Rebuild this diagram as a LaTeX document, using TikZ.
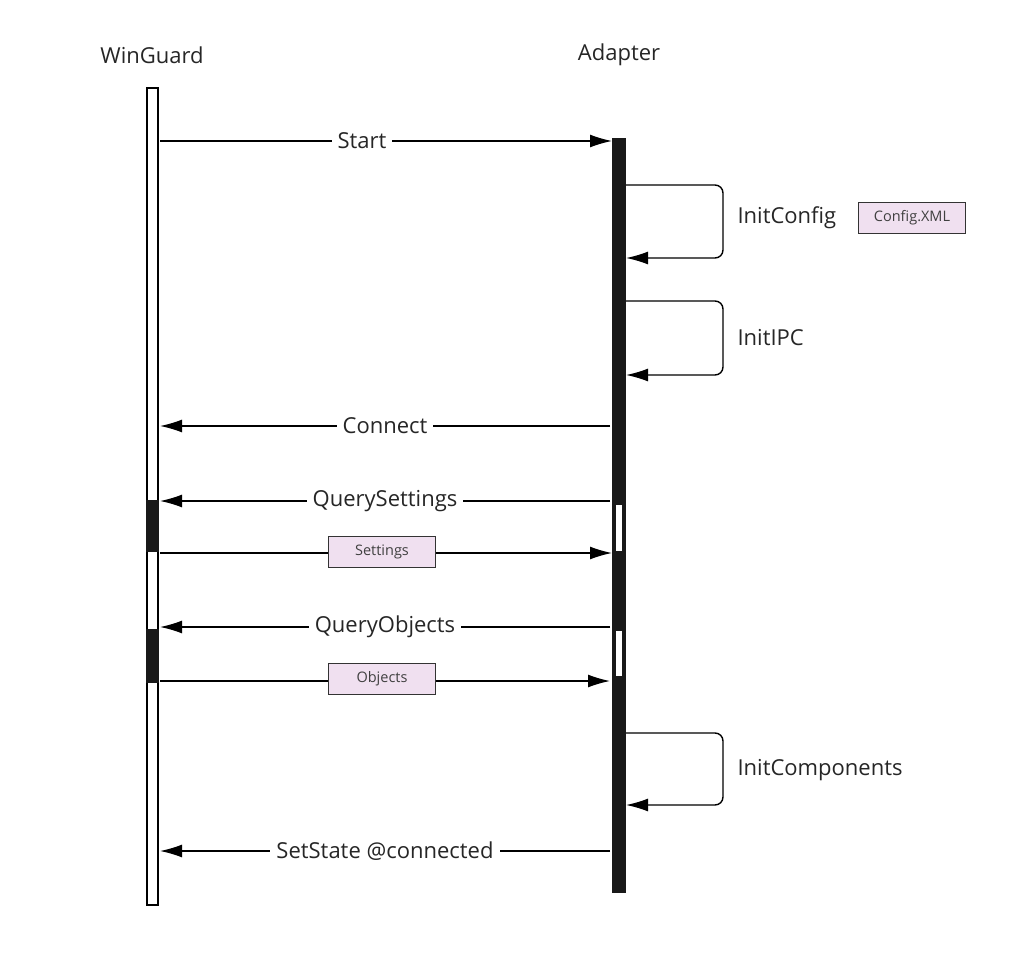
\documentclass[tikz,border=0pt]{standalone}
\usepackage{fontspec}
\setmainfont{Open Sans}
\usetikzlibrary{arrows.meta}
\begin{document}
\begin{tikzpicture}[x=1pt,y=-1pt,
  msg/.style={line width=1.4pt,-{Latex[length=22pt,width=13pt]}},
  lbl/.style={fill=white,font=\fontsize{22}{26}\selectfont,text=black!85,inner sep=6pt},
  note/.style={draw=black!80,line width=1.2pt,fill=violet!12,font=\fontsize{14.5}{17}\selectfont,text=black!75,minimum width=107pt,minimum height=31pt,inner sep=2pt},
  side/.style={font=\fontsize{22}{26}\selectfont,text=black!85,anchor=west},
  head/.style={font=\fontsize{22}{26}\selectfont,text=black!85}]
\useasboundingbox (0,0) rectangle (1029,971);
% headers
\node[head] (wg) at (152,55) {WinGuard};
\node[head] (ad) at (619,55) {Adapter};
% left lifeline
\draw[line width=2.5pt,fill=white] (147,88) rectangle (158,905);
\fill[black!90] (146,500) rectangle (159,552);
\fill[black!90] (146,629) rectangle (159,683);
% right lifeline
\fill[black!90] (612,138) rectangle (626,893);
\fill[white] (616,505) rectangle (622,551);
\fill[white] (616,631) rectangle (622,676);
% Start
\coordinate (s1) at (160,141); \coordinate (s2) at (612,141);
\draw[msg] (s1) -- node[lbl,xshift=-24pt]{Start} (s2);
% InitConfig loop
\coordinate (a1) at (626,185); \coordinate (a2) at (626,258);
\draw[msg,rounded corners=8pt] (a1) -- (723,185) -- (723,258) -- (a2);
\node[side] (ic) at (734,218) {InitConfig};
\node[note] (cx) at (912,218) {Config.XML};
% InitIPC loop
\coordinate (b1) at (626,301); \coordinate (b2) at (626,375);
\draw[msg,rounded corners=8pt] (b1) -- (723,301) -- (723,375) -- (b2);
\node[side] (ipc) at (734,338) {InitIPC};
% Connect
\coordinate (c1) at (610,426); \coordinate (c2) at (160,426);
\draw[msg] (c1) -- node[lbl]{Connect} (c2);
% QuerySettings
\coordinate (d1) at (610,501); \coordinate (d2) at (160,501);
\draw[msg] (d1) -- node[lbl]{QuerySettings} (d2);
% Settings
\coordinate (e1) at (160,553); \coordinate (e2) at (612,553);
\draw[msg] (e1) -- (e2);
\node[note] (st) at (382,552) {Settings};
% QueryObjects
\coordinate (f1) at (610,627); \coordinate (f2) at (160,627);
\draw[msg] (f1) -- node[lbl]{QueryObjects} (f2);
% Objects
\coordinate (g1) at (160,681); \coordinate (g2) at (610,681);
\draw[msg] (g1) -- (g2);
\node[note] (ob) at (382,679) {Objects};
% InitComponents loop
\coordinate (h1) at (626,733); \coordinate (h2) at (626,805);
\draw[msg,rounded corners=8pt] (h1) -- (723,733) -- (723,805) -- (h2);
\node[side] (icp) at (734,770) {InitComponents};
% SetState
\coordinate (k1) at (610,851); \coordinate (k2) at (160,851);
\draw[msg] (k1) -- node[lbl]{SetState @connected} (k2);
\end{tikzpicture}
\end{document}
